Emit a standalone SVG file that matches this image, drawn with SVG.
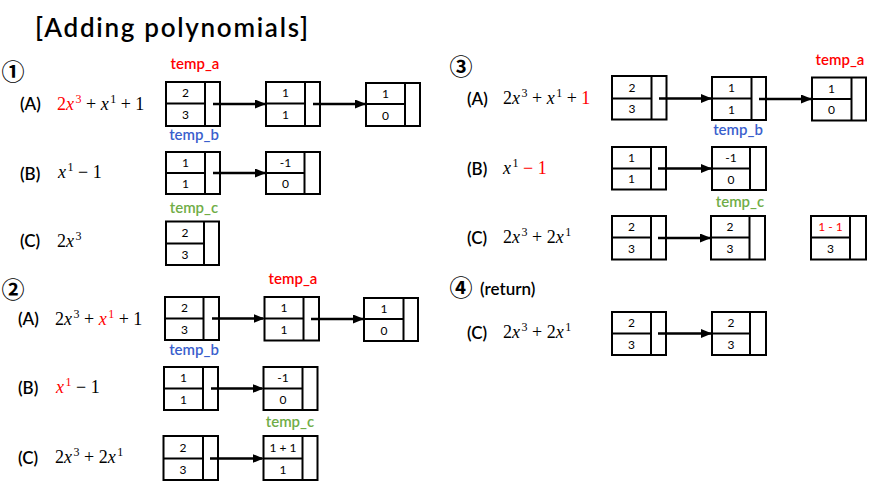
<svg xmlns="http://www.w3.org/2000/svg" width="871" height="487" viewBox="0 0 871 487">
<defs>
<marker id="ah" markerUnits="userSpaceOnUse" markerWidth="11" markerHeight="9" refX="10" refY="4.5" orient="auto"><path d="M0,0 L11,4.5 L0,9 z" fill="#000"/></marker>
<style>
.bx{fill:#fff;stroke:#000;stroke-width:2}
.dv{stroke:#000;stroke-width:2}
.n{font-family:Lato,"Open Sans",sans-serif;font-size:12px;text-anchor:middle;fill:#000}
.lb{font-family:Lato,"Open Sans",sans-serif;font-size:17px;font-weight:600;fill:#000}
.tp{font-family:Lato,"Open Sans",sans-serif;font-size:15px;font-weight:600;text-anchor:middle}
.ta{fill:#ff0000}.tb{fill:#3a5fcd}.tc{fill:#70ad47}
.m{font-family:"Liberation Serif",serif;font-size:18px;fill:#000}
.i{font-style:italic}
.s{font-size:12px}
.r{fill:#ff0000}
.cn{font-family:"Noto Sans CJK JP","DejaVu Sans",sans-serif;font-size:23px;font-weight:700;text-anchor:middle}
.ar{stroke:#000;stroke-width:2.5;fill:none;marker-end:url(#ah)}
</style>
</defs>
<text x="35" y="37" font-family="Lato,sans-serif" font-size="26" font-weight="600" textLength="273" lengthAdjust="spacing">[Adding polynomials]</text>

<!-- Section 1 -->
<text class="cn" x="13" y="80">①</text>
<text class="lb" x="20" y="110">(A)</text>
<text class="m" x="57" y="110"><tspan class="r">2<tspan class="i">x</tspan><tspan class="s" dx="1.5" dy="-7">3</tspan></tspan><tspan dy="7"> + </tspan><tspan class="i">x</tspan><tspan class="s" dx="1.5" dy="-7">1</tspan><tspan dy="7"> + 1</tspan></text>
<text class="lb" x="20" y="180">(B)</text>
<text class="m" x="58" y="178"><tspan class="i">x</tspan><tspan class="s" dx="1.5" dy="-7">1</tspan><tspan dy="7"> − 1</tspan></text>
<text class="lb" x="20" y="247">(C)</text>
<text class="m" x="57" y="247">2<tspan class="i">x</tspan><tspan class="s" dx="1.5" dy="-7">3</tspan></text>
<text class="tp ta" x="195" y="69">temp_a</text>
<text class="tp tb" x="194" y="140">temp_b</text>
<text class="tp tc" x="194" y="213">temp_c</text>

<g id="s1a1"><rect class="bx" x="166" y="82" width="54" height="44"/><line class="dv" x1="205" y1="82" x2="205" y2="126"/><line class="dv" x1="166" y1="103.5" x2="205" y2="103.5"/><text class="n" x="185.5" y="97">2</text><text class="n" x="185.5" y="119">3</text></g>
<g id="s1a2"><rect class="bx" x="266" y="82" width="54" height="44"/><line class="dv" x1="305" y1="82" x2="305" y2="126"/><line class="dv" x1="266" y1="103.5" x2="305" y2="103.5"/><text class="n" x="285.5" y="97">1</text><text class="n" x="285.5" y="119">1</text></g>
<g id="s1a3"><rect class="bx" x="366" y="83" width="54" height="43"/><line class="dv" x1="405" y1="83" x2="405" y2="126"/><line class="dv" x1="366" y1="104" x2="405" y2="104"/><text class="n" x="385.5" y="98">1</text><text class="n" x="385.5" y="119.5">0</text></g>
<g id="s1b1"><rect class="bx" x="166" y="152" width="54" height="42"/><line class="dv" x1="205" y1="152" x2="205" y2="194"/><line class="dv" x1="166" y1="173" x2="205" y2="173"/><text class="n" x="185.5" y="167">1</text><text class="n" x="185.5" y="188">1</text></g>
<g id="s1b2"><rect class="bx" x="266" y="152" width="54" height="42"/><line class="dv" x1="304.5" y1="152" x2="304.5" y2="194"/><line class="dv" x1="266" y1="173" x2="304.5" y2="173"/><text class="n" x="285.5" y="167">-1</text><text class="n" x="285.5" y="188">0</text></g>
<g id="s1c1"><rect class="bx" x="166" y="221.5" width="53" height="43.5"/><line class="dv" x1="204" y1="221.5" x2="204" y2="265"/><line class="dv" x1="166" y1="243.5" x2="204" y2="243.5"/><text class="n" x="185" y="237">2</text><text class="n" x="185" y="258.5">3</text></g>

<!-- Section 2 -->
<text class="cn" x="13" y="298">②</text>
<text class="lb" x="18" y="325">(A)</text>
<text class="m" x="55" y="325">2<tspan class="i">x</tspan><tspan class="s" dx="1.5" dy="-7">3</tspan><tspan dy="7"> + </tspan><tspan class="r"><tspan class="i">x</tspan><tspan class="s" dx="1.5" dy="-7">1</tspan></tspan><tspan dy="7"> + 1</tspan></text>
<text class="lb" x="18" y="394">(B)</text>
<text class="m" x="56" y="393"><tspan class="r"><tspan class="i">x</tspan><tspan class="s" dx="1.5" dy="-7">1</tspan></tspan><tspan dy="7"> − 1</tspan></text>
<text class="lb" x="18" y="464">(C)</text>
<text class="m" x="55" y="463">2<tspan class="i">x</tspan><tspan class="s" dx="1.5" dy="-7">3</tspan><tspan dy="7"> + 2</tspan><tspan class="i">x</tspan><tspan class="s" dx="1.5" dy="-7">1</tspan></text>
<text class="tp ta" x="293" y="284">temp_a</text>
<text class="tp tb" x="194" y="355">temp_b</text>
<text class="tp tc" x="290" y="427">temp_c</text>

<g id="s2a1"><rect class="bx" x="165" y="297" width="54" height="43"/><line class="dv" x1="203.5" y1="297" x2="203.5" y2="340"/><line class="dv" x1="165" y1="318.5" x2="203.5" y2="318.5"/><text class="n" x="184.5" y="312">2</text><text class="n" x="184.5" y="333.5">3</text></g>
<g id="s2a2"><rect class="bx" x="264.5" y="297" width="54.5" height="43.5"/><line class="dv" x1="303.5" y1="297" x2="303.5" y2="340.5"/><line class="dv" x1="264.5" y1="318.5" x2="303.5" y2="318.5"/><text class="n" x="284" y="312">1</text><text class="n" x="284" y="334">1</text></g>
<g id="s2a3"><rect class="bx" x="364" y="298" width="54" height="43"/><line class="dv" x1="403.5" y1="298" x2="403.5" y2="341"/><line class="dv" x1="364" y1="319" x2="403.5" y2="319"/><text class="n" x="384" y="312.5">1</text><text class="n" x="384" y="334.5">0</text></g>
<g id="s2b1"><rect class="bx" x="164" y="367" width="54" height="43"/><line class="dv" x1="203" y1="367" x2="203" y2="410"/><line class="dv" x1="164" y1="388.5" x2="203" y2="388.5"/><text class="n" x="183.5" y="382">1</text><text class="n" x="183.5" y="403.5">1</text></g>
<g id="s2b2"><rect class="bx" x="263.5" y="367" width="54" height="43"/><line class="dv" x1="302.5" y1="367" x2="302.5" y2="410"/><line class="dv" x1="263.5" y1="388.5" x2="302.5" y2="388.5"/><text class="n" x="283" y="382">-1</text><text class="n" x="283" y="403.5">0</text></g>
<g id="s2c1"><rect class="bx" x="163.5" y="436" width="54.5" height="44"/><line class="dv" x1="203" y1="436" x2="203" y2="480"/><line class="dv" x1="163.5" y1="458.5" x2="203" y2="458.5"/><text class="n" x="183" y="451.5">2</text><text class="n" x="183" y="473.5">3</text></g>
<g id="s2c2"><rect class="bx" x="263.5" y="436" width="54" height="44"/><line class="dv" x1="302.5" y1="436" x2="302.5" y2="480"/><line class="dv" x1="263.5" y1="458.5" x2="302.5" y2="458.5"/><text class="n" x="283" y="451.5">1 + 1</text><text class="n" x="283" y="473.5">1</text></g>

<!-- Section 3 -->
<text class="cn" x="461" y="75">③</text>
<text class="lb" x="467" y="105">(A)</text>
<text class="m" x="503" y="104">2<tspan class="i">x</tspan><tspan class="s" dx="1.5" dy="-7">3</tspan><tspan dy="7"> + </tspan><tspan class="i">x</tspan><tspan class="s" dx="1.5" dy="-7">1</tspan><tspan dy="7"> + </tspan><tspan class="r">1</tspan></text>
<text class="lb" x="467" y="175">(B)</text>
<text class="m" x="503" y="174"><tspan class="i">x</tspan><tspan class="s" dx="1.5" dy="-7">1</tspan><tspan class="r" dy="7"> − 1</tspan></text>
<text class="lb" x="467" y="244">(C)</text>
<text class="m" x="503" y="243">2<tspan class="i">x</tspan><tspan class="s" dx="1.5" dy="-7">3</tspan><tspan dy="7"> + 2</tspan><tspan class="i">x</tspan><tspan class="s" dx="1.5" dy="-7">1</tspan></text>
<text class="tp ta" x="840" y="65">temp_a</text>
<text class="tp tb" x="738" y="135">temp_b</text>
<text class="tp tc" x="740" y="207">temp_c</text>

<g id="s3a1"><rect class="bx" x="612" y="76" width="54.5" height="43.5"/><line class="dv" x1="651.5" y1="76" x2="651.5" y2="119.5"/><line class="dv" x1="612" y1="98.5" x2="651.5" y2="98.5"/><text class="n" x="632" y="91.5">2</text><text class="n" x="632" y="113">3</text></g>
<g id="s3a2"><rect class="bx" x="712" y="77" width="54" height="43"/><line class="dv" x1="751.5" y1="77" x2="751.5" y2="120"/><line class="dv" x1="712" y1="98.5" x2="751.5" y2="98.5"/><text class="n" x="731.5" y="92">1</text><text class="n" x="731.5" y="113.5">1</text></g>
<g id="s3a3"><rect class="bx" x="812" y="77.5" width="54" height="43"/><line class="dv" x1="851.5" y1="77.5" x2="851.5" y2="120.5"/><line class="dv" x1="812" y1="99" x2="851.5" y2="99"/><text class="n" x="831.5" y="92.5">1</text><text class="n" x="831.5" y="114">0</text></g>
<g id="s3b1"><rect class="bx" x="612" y="147" width="54" height="42.5"/><line class="dv" x1="651" y1="147" x2="651" y2="189.5"/><line class="dv" x1="612" y1="168.5" x2="651" y2="168.5"/><text class="n" x="631.5" y="162">1</text><text class="n" x="631.5" y="183">1</text></g>
<g id="s3b2"><rect class="bx" x="712" y="147" width="54" height="43"/><line class="dv" x1="750" y1="147" x2="750" y2="190"/><line class="dv" x1="712" y1="168.5" x2="750" y2="168.5"/><text class="n" x="731" y="162">-1</text><text class="n" x="731" y="183.5">0</text></g>
<g id="s3c1"><rect class="bx" x="612" y="216" width="54" height="43.5"/><line class="dv" x1="651" y1="216" x2="651" y2="259.5"/><line class="dv" x1="612" y1="237.5" x2="651" y2="237.5"/><text class="n" x="631.5" y="231">2</text><text class="n" x="631.5" y="253">3</text></g>
<g id="s3c2"><rect class="bx" x="711" y="216" width="54" height="43.5"/><line class="dv" x1="749.5" y1="216" x2="749.5" y2="259.5"/><line class="dv" x1="711" y1="237.5" x2="749.5" y2="237.5"/><text class="n" x="730" y="231">2</text><text class="n" x="730" y="253">3</text></g>
<g id="s3c3"><rect class="bx" x="811" y="216" width="55" height="43.5"/><line class="dv" x1="850" y1="216" x2="850" y2="259.5"/><line class="dv" x1="811" y1="237.5" x2="850" y2="237.5"/><text class="n r" x="830.5" y="231">1 - 1</text><text class="n" x="830.5" y="253">3</text></g>

<!-- Section 4 -->
<text class="cn" x="461" y="296">④</text>
<text class="lb" x="480" y="295">(return)</text>
<text class="lb" x="467" y="339">(C)</text>
<text class="m" x="503" y="338">2<tspan class="i">x</tspan><tspan class="s" dx="1.5" dy="-7">3</tspan><tspan dy="7"> + 2</tspan><tspan class="i">x</tspan><tspan class="s" dx="1.5" dy="-7">1</tspan></text>

<g id="s4c1"><rect class="bx" x="612" y="312" width="54" height="43"/><line class="dv" x1="651" y1="312" x2="651" y2="355"/><line class="dv" x1="612" y1="333.5" x2="651" y2="333.5"/><text class="n" x="631.5" y="327">2</text><text class="n" x="631.5" y="348.5">3</text></g>
<g id="s4c2"><rect class="bx" x="712" y="312" width="54" height="43"/><line class="dv" x1="750" y1="312" x2="750" y2="355"/><line class="dv" x1="712" y1="333.5" x2="750" y2="333.5"/><text class="n" x="731" y="327">2</text><text class="n" x="731" y="348.5">3</text></g>

<g id="connectors">
<line class="ar" x1="213" y1="104" x2="265" y2="104"/>
<line class="ar" x1="313" y1="104" x2="365" y2="104"/>
<line class="ar" x1="213" y1="173" x2="265" y2="173"/>
<line class="ar" x1="212" y1="318.5" x2="263.5" y2="318.5"/>
<line class="ar" x1="311" y1="319" x2="363" y2="319"/>
<line class="ar" x1="211" y1="388.5" x2="262.5" y2="388.5"/>
<line class="ar" x1="210" y1="458.5" x2="262.5" y2="458.5"/>
<line class="ar" x1="659" y1="98.5" x2="711" y2="98.5"/>
<line class="ar" x1="759" y1="99" x2="811" y2="99"/>
<line class="ar" x1="658" y1="168.5" x2="711" y2="168.5"/>
<line class="ar" x1="658" y1="238" x2="710" y2="238"/>
<line class="ar" x1="658" y1="333.5" x2="711" y2="333.5"/>
</g>
</svg>
